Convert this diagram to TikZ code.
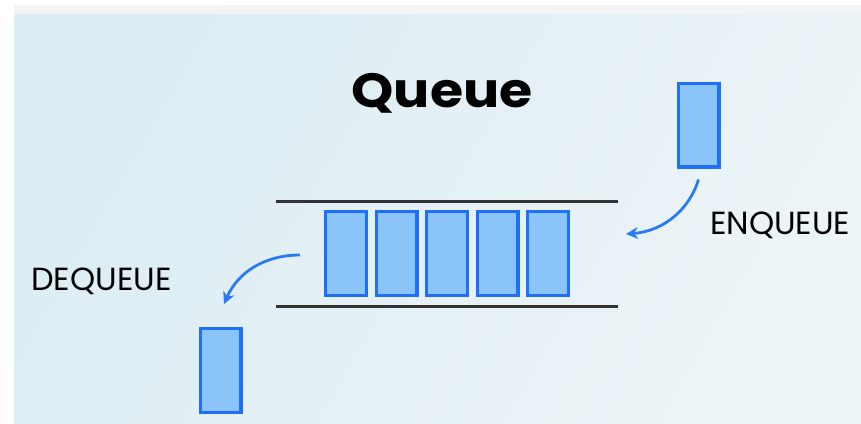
\documentclass[tikz,border=0pt]{standalone}
\usepackage{fontspec}
\setmainfont{Poppins}
\usetikzlibrary{arrows.meta}
\definecolor{bgA}{HTML}{DCEDF4}
\definecolor{bgB}{HTML}{EDF4F7}
\definecolor{strip}{HTML}{F4F4F4}
\definecolor{itemfill}{HTML}{8AC4F8}
\definecolor{itemedge}{HTML}{1F6FFA}
\definecolor{arrowblue}{HTML}{2A7AF5}
\definecolor{rail}{HTML}{333333}
\tikzset{
  item/.style={draw=itemedge, fill=itemfill, line width=3.4pt,
    minimum width=40.6pt, minimum height=83.6pt, inner sep=0pt},
  rail/.style={draw=rail, line width=3pt},
  flow/.style={draw=arrowblue, line width=2.8pt,
    -{Stealth[length=12pt,width=12pt]}},
  label/.style={font=\fontsize{32}{32}\selectfont, inner sep=0pt, anchor=base west}
}
\begin{document}
\begin{tikzpicture}[x=1pt, y=-1pt]
  % canvas
  \fill[white] (0,0) rectangle (861,423);
  \useasboundingbox (0,0) rectangle (861,423);
  \fill[strip] (14,5) rectangle (861,14);
  \shade[left color=bgA, right color=bgB, shading angle=60] (14,14) rectangle (861,423);

  % title
  \node[font=\fontsize{48}{48}\selectfont\bfseries, inner sep=0pt, anchor=base, xscale=1.12] (title) at (442,107) {Queue};

  % rails of the queue
  \coordinate (railTL) at (276,201);
  \coordinate (railTR) at (618,201);
  \coordinate (railBL) at (276,306);
  \coordinate (railBR) at (618,306);
  \draw[rail] (railTL) -- (railTR);
  \draw[rail] (railBL) -- (railBR);

  % items in the queue
  \node[item] (q1) at (346,253.5) {};
  \node[item] (q2) at (396.5,253.5) {};
  \node[item] (q3) at (447,253.5) {};
  \node[item] (q4) at (497.5,253.5) {};
  \node[item] (q5) at (548,253.5) {};

  % incoming and outgoing items
  \node[item] (enq) at (698.5,125) {};
  \node[item] (deq) at (220.5,370.5) {};

  % labels
  \node[label] (enqlabel) at (710,234) {ENQUEUE};
  \node[label] (deqlabel) at (31,290) {DEQUEUE};

  % arrows
  \coordinate (enqFrom) at ([yshift=-11pt]enq.south);
  \coordinate (enqTo) at (626,234);
  \draw[flow] (enqFrom) .. controls (690,208) and (665,231) .. (enqTo);
  \coordinate (deqFrom) at (300,255);
  \coordinate (deqTo) at (224,304);
  \draw[flow] (deqFrom) .. controls (265,255) and (238,272) .. (deqTo);
\end{tikzpicture}
\end{document}
